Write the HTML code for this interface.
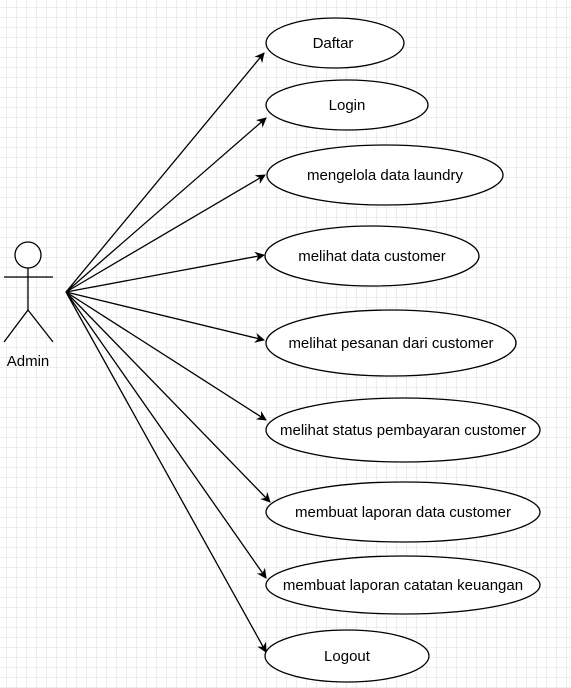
<!DOCTYPE html>
<html><head><style>
html,body{margin:0;padding:0;background:#fff;}
svg{display:block;}
text{font-family:"Liberation Sans",Arial,sans-serif;font-size:15px;fill:#000;}
</style></head><body>
<svg width="571" height="688" xmlns="http://www.w3.org/2000/svg">
<defs>
<pattern id="g" width="10" height="10" patternUnits="userSpaceOnUse" x="7" y="8">
<path d="M10 0V10M0 10H10" stroke="#dedede" stroke-width="1" fill="none"/>
</pattern>
<marker id="a" markerWidth="10" markerHeight="10" refX="9" refY="5" orient="auto" markerUnits="userSpaceOnUse">
<path d="M0,0 L10,5 L0,10 L3,5z" fill="#000"/>
</marker>
</defs>
<rect width="571" height="688" fill="url(#g)"/>
<g stroke="#000" stroke-width="1.3" fill="none">
<circle cx="28" cy="255" r="13" fill="#fff"/>
<line x1="28" y1="268" x2="28" y2="310"/>
<line x1="4" y1="277" x2="53" y2="277"/>
<line x1="28" y1="310" x2="4" y2="342"/>
<line x1="28" y1="310" x2="53" y2="342"/>
</g>
<text x="28" y="366" text-anchor="middle">Admin</text>
<g stroke="#000" stroke-width="1.3" marker-end="url(#a)">
<line x1="66" y1="292" x2="264" y2="53"/>
<line x1="66" y1="292" x2="266" y2="118"/>
<line x1="66" y1="292" x2="265" y2="175"/>
<line x1="66" y1="292" x2="264" y2="255"/>
<line x1="66" y1="292" x2="264" y2="340"/>
<line x1="66" y1="292" x2="266" y2="420"/>
<line x1="66" y1="292" x2="270" y2="502"/>
<line x1="66" y1="292" x2="266" y2="578"/>
<line x1="66" y1="292" x2="266" y2="652"/>
</g>
<g stroke="#000" stroke-width="1.3" fill="#fff">
<ellipse cx="335" cy="43" rx="69" ry="25"/>
<ellipse cx="347" cy="105" rx="81" ry="25"/>
<ellipse cx="385" cy="175" rx="118" ry="30"/>
<ellipse cx="372" cy="256" rx="107" ry="30"/>
<ellipse cx="391" cy="343" rx="125" ry="33"/>
<ellipse cx="403" cy="430" rx="137" ry="32"/>
<ellipse cx="403" cy="512" rx="137" ry="30"/>
<ellipse cx="403" cy="585" rx="137" ry="29"/>
<ellipse cx="347" cy="656" rx="82" ry="26"/>
</g>
<g text-anchor="middle">
<text x="333" y="48">Daftar</text>
<text x="347" y="110">Login</text>
<text x="385" y="180">mengelola data laundry</text>
<text x="372" y="261">melihat data customer</text>
<text x="391" y="348">melihat pesanan dari customer</text>
<text x="403" y="435">melihat status pembayaran customer</text>
<text x="403" y="517">membuat laporan data customer</text>
<text x="403" y="590">membuat laporan catatan keuangan</text>
<text x="347" y="661">Logout</text>
</g>
</svg>
</body></html>
